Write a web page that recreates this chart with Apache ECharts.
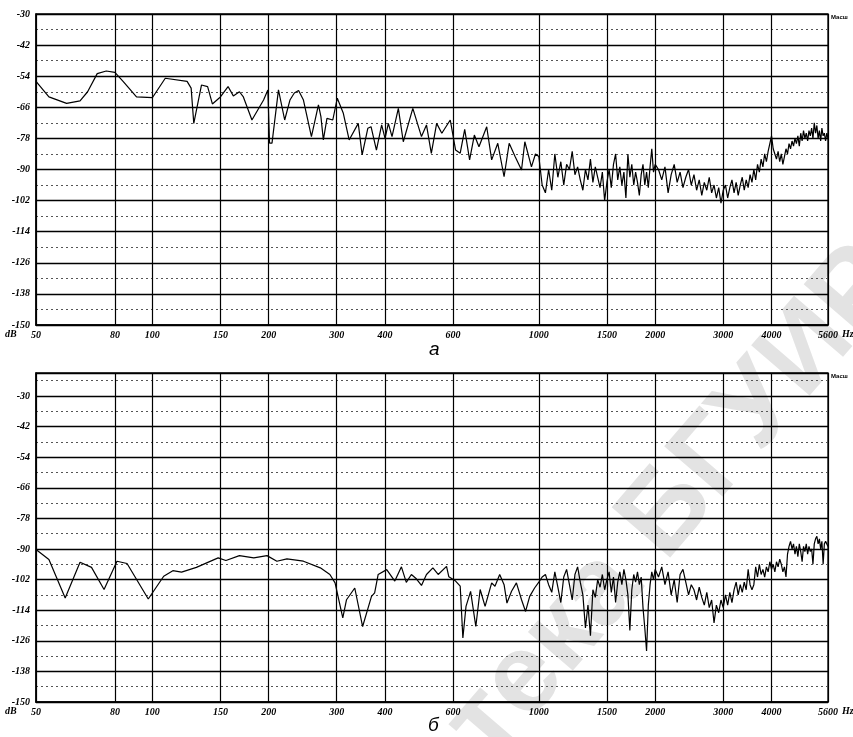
<!DOCTYPE html>
<html><head><meta charset="utf-8">
<script src="https://cdn.jsdelivr.net/npm/echarts@6/dist/echarts.min.js"></script>
<style>html,body{margin:0;padding:0;background:#fff}#c{width:853px;height:737px}</style>
</head><body><div id="c"></div>
<script>
const freqTicks = [50,80,100,150,200,300,400,600,1000,1500,2000,3000,4000,5600];
const yTicks = [-150,-138,-126,-114,-102,-90,-78,-66,-54,-42,-30];

// panel a
const freqA = [50,54,60,65,68,72,76,80,84,91,100,108,123,126,128,134,139,143,150,157,162,168,172,181,194,199,201,204,212,220,227,233,239,246,258,269,273,277,283,293,301,312,323,341,349,361,368,380,392,400,408,417,433,446,472,497,512,527,544,561,590,609,626,643,662,681,700,733,755,783,813,838,868,902,920,957,980,
1000,1020,1040,1060,1080,1100,1120,1140,1160,1180,1200,1220,1240,1260,1280,1300,1320,1340,1360,1380,1400,1420,1440,1460,1480,1500,1520,1540,1560,1580,1600,1620,1640,1660,1680,1700,1720,1740,1760,1780,1800,1820,1840,1860,1880,1900,1920,1940,1960,1980,2000,
2040,2080,2120,2160,2200,2240,2280,2320,2360,2400,2440,2480,2520,2560,2600,2640,2680,2720,2760,2800,2840,2880,2920,2960,3000,3040,3080,3120,3160,3200,3240,3280,3320,3360,3400,3440,3480,3520,3560,3600,3640,3680,3720,3760,3800,3840,3880,3920,3960,4000,4040,4080,4120,4160,4200,4240,4280,4320,4360,4400,4440,4480,4520,4560,4600,4640,4680,4720,4760,4800,4840,4880,4920,4960,5000,5040,5080,5120,5160,5200,5240,5280,5320,5360,5400,5440,5480,5520,5560,5600];
const dbA = [-56,-62,-64.5,-63.5,-60,-53,-52,-52.5,-56,-62,-62.3,-54.8,-56,-58.6,-72.2,-57.4,-58,-64.7,-62,-58,-61.6,-60,-62,-70.9,-63.2,-59.3,-79.8,-79.8,-59.3,-70.9,-63.2,-60.5,-59.5,-63.2,-77.3,-65.1,-69.6,-78.6,-70.3,-70.9,-62.5,-68.3,-78.6,-72.2,-84.4,-74.1,-73.5,-82.5,-72.8,-78,-72.2,-77.3,-66.4,-79.3,-66.4,-77.3,-72.8,-83.8,-72.2,-76,-70.9,-82.5,-83.7,-74.5,-86.3,-76.7,-81.2,-73.5,-86.3,-79.9,-92.8,-79.9,-85,-90.2,-79.3,-89,-84,
-85,-96,-99,-90,-98,-84,-93,-87,-96,-88,-90,-83,-92,-89,-94,-98,-90,-94,-86,-95,-89,-93,-97,-91,-102,-95,-90,-97,-88,-84,-94,-89,-96,-91,-101,-84,-93,-88,-96,-91,-95,-100,-92,-88,-96,-91,-97,-89,-82,-91,-88,
-90,-94,-89,-99,-92,-88,-95,-91,-97,-93,-90,-96,-92,-98,-94,-100,-95,-98,-93,-99,-96,-101,-97,-103,-98,-96,-101,-97,-94,-99,-95,-100,-96,-93,-98,-94,-97,-92,-95,-90,-94,-88,-91,-86,-89,-84,-87,-83,-80,-77,-82,-84,-86,-83,-87,-84,-88,-85,-82,-84,-80,-82,-79,-81,-78,-80,-77,-81,-76,-79,-75,-78,-76,-79,-75,-77,-74,-78,-72,-76,-73,-78,-75,-79,-74,-77,-76,-79,-76,-78];

// panel б
const freqB = [50,54,59.5,65,69.6,75,81,86,97.6,107,113,119,130,148,155,168,183,198,210,223,246,272,288,297,311,318,334,350,369,376,384,404,424,441,454,468,482,497,512,532,549,577,585,609,626,636,648,666,687,705,726,755,770,792,813,827,850,875,902,924,947,975,
1000,1020,1040,1060,1080,1100,1120,1140,1160,1180,1200,1220,1240,1260,1280,1300,1320,1340,1360,1380,1400,1420,1440,1460,1480,1500,1520,1540,1560,1580,1600,1620,1640,1660,1680,1700,1720,1740,1760,1780,1800,1820,1840,1860,1880,1900,1920,1940,1960,1980,2000,
2040,2080,2120,2160,2200,2240,2280,2320,2360,2400,2440,2480,2520,2560,2600,2640,2680,2720,2760,2800,2840,2880,2920,2960,3000,3040,3080,3120,3160,3200,3240,3280,3320,3360,3400,3440,3480,3520,3560,3600,3640,3680,3720,3760,3800,3840,3880,3920,3960,4000,4040,4080,4120,4160,4200,4240,4280,4320,4360,4400,4440,4480,4520,4560,4600,4640,4680,4720,4760,4800,4840,4880,4920,4960,5000,5040,5080,5120,5160,5200,5240,5280,5320,5360,5400,5440,5480,5520,5560,5600];
const dbB = [-90.2,-94.1,-109.2,-95.2,-97.2,-105.9,-94.8,-95.7,-109.6,-100.7,-98.5,-99.1,-97.2,-93.5,-94.5,-92.6,-93.5,-92.6,-94.8,-93.9,-94.8,-97.4,-100,-103.3,-117,-109.9,-105.3,-120.4,-108.6,-107.2,-100,-98.1,-102.6,-97,-103.1,-100,-101.7,-104.3,-100,-97.4,-100,-96.8,-100.9,-102.6,-104.6,-124.9,-112.5,-106.6,-120.4,-105.9,-112.5,-103.3,-104.6,-100,-104,-111.2,-106.6,-103.3,-109.9,-114.5,-108.6,-105.3,
-103,-101,-100,-104,-107,-99,-105,-111,-101,-98,-104,-110,-100,-97,-103,-108,-121,-112,-124,-106,-109,-102,-105,-100,-106,-102,-99,-107,-101,-111,-103,-99,-104,-98,-102,-108,-122,-106,-100,-103,-99,-104,-101,-113,-121,-130,-112,-104,-99,-102,-98,
-101,-97,-104,-99,-108,-102,-111,-100,-98,-103,-108,-104,-106,-110,-105,-109,-112,-107,-113,-110,-119,-112,-115,-110,-113,-108,-112,-107,-111,-106,-103,-108,-104,-107,-103,-106,-98,-104,-106,-104,-97,-101,-96,-100,-98,-101,-97,-99,-95,-98,-96,-99,-95,-97,-94,-96,-99,-97,-101,-92,-89,-87,-90,-88,-92,-89,-93,-88,-91,-95,-89,-91,-88,-92,-89,-91,-90,-96,-88,-86,-85,-88,-86,-90,-87,-96,-88,-87,-88,-89];

const pairs = (f, d) => f.map((x, i) => [x, d[i]]);
const lblFont = {fontFamily: 'Liberation Serif', fontStyle: 'italic', fontWeight: 'bold', fontSize: 10, color: '#000'};

function xAx(i) {
  return {
    type: 'log', logBase: 10, min: 50, max: 5600, gridIndex: i,
    axisLine: {show: true, lineStyle: {color: '#000', width: 1.5}},
    axisTick: {show: false, customValues: freqTicks},
    axisLabel: Object.assign({customValues: freqTicks, margin: 5, formatter: v => String(Math.round(v))}, lblFont),
    splitLine: {show: true, lineStyle: {color: '#000', width: 1.2}},
    minorTick: {show: false}, minorSplitLine: {show: false}
  };
}
function yAx(i, max) {
  return {
    type: 'value', min: -150, max: max, interval: 12, gridIndex: i,
    axisLine: {show: true, lineStyle: {color: '#000', width: 1.5}},
    axisTick: {show: false},
    axisLabel: Object.assign({margin: 6, formatter: v => yTicks.includes(v) ? String(v) : ''}, lblFont),
    splitLine: {show: true, lineStyle: {color: '#000', width: 1.4}},
    minorTick: {show: false, splitNumber: 2},
    minorSplitLine: {show: true, lineStyle: {color: '#555', width: 1, type: [2, 3]}}
  };
}

const labelStyle = 'italic bold 10px "Liberation Serif"';
const chart = echarts.init(document.getElementById('c'), null, {renderer: 'canvas'});
chart.setOption({
  animation: false,
  backgroundColor: '#fff',
  grid: [
    {left: 36, top: 14, width: 792, height: 311, show: true, borderColor: '#000', borderWidth: 1.3},
    {left: 36, top: 373, width: 792, height: 329, show: true, borderColor: '#000', borderWidth: 1.3}
  ],
  xAxis: [xAx(0), xAx(1)],
  yAxis: [yAx(0, -30), yAx(1, -21)],
  graphic: [
    {type: 'text', x: 925, y: 300, rotation: 0.86, z: -10, silent: true,
     style: {text: 'Библиотека БГУИР', font: 'bold 112px "Liberation Sans"', fill: '#e3e3e3', textAlign: 'right', textVerticalAlign: 'bottom'}},
    {type: 'text', left: 5, top: 329, style: {text: 'dB', font: labelStyle, fill: '#000'}},
    {type: 'text', left: 842, top: 329, style: {text: 'Hz', font: labelStyle, fill: '#000'}},
    {type: 'text', left: 5, top: 706, style: {text: 'dB', font: labelStyle, fill: '#000'}},
    {type: 'text', left: 842, top: 706, style: {text: 'Hz', font: labelStyle, fill: '#000'}},
    {type: 'text', left: 831, top: 14, style: {text: 'Масш', font: 'bold 6px "Liberation Sans"', fill: '#000'}},
    {type: 'text', left: 831, top: 373, style: {text: 'Масш', font: 'bold 6px "Liberation Sans"', fill: '#000'}},
    {type: 'text', left: 429, top: 340, style: {text: 'а', font: 'italic 19px "Liberation Sans"', fill: '#000'}},
    {type: 'text', left: 428, top: 716, style: {text: 'б', font: 'italic 19px "Liberation Sans"', fill: '#000'}}
  ],
  series: [
    {type: 'line', xAxisIndex: 0, yAxisIndex: 0, data: pairs(freqA, dbA), showSymbol: false, lineStyle: {color: '#000', width: 1.2}, z: 5},
    {type: 'line', xAxisIndex: 1, yAxisIndex: 1, data: pairs(freqB, dbB), showSymbol: false, lineStyle: {color: '#000', width: 1.2}, z: 5}
  ]
});
</script></body></html>
